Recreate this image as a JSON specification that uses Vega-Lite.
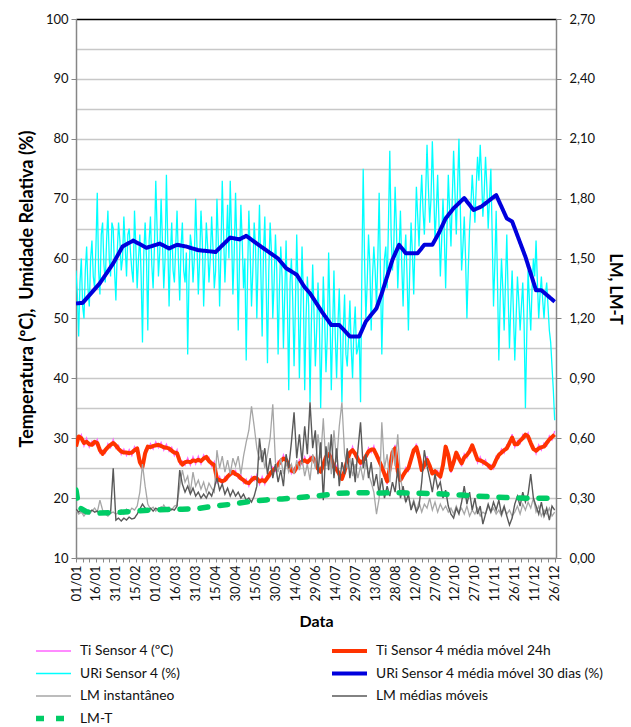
{
  "$schema": "https://vega.github.io/schema/vega-lite/v6.json",
  "width": 480,
  "height": 539,
  "autosize": "none",
  "padding": {"left": 76, "top": 19, "right": 75, "bottom": 169},
  "background": "white",
  "config": {
    "font": "Lato",
    "view": {"stroke": null},
    "axis": {"labelFont": "Lato", "titleFont": "Lato", "labelColor": "#111", "titleColor": "#000", "labelFontSize": 13, "titleFontSize": 15, "titleFontWeight": "bold", "domainColor": "#868686", "domainWidth": 1.5, "tickColor": "#868686"}
  },
  "datasets": {
    "raw": [
      {"d":"2016-01-01","ti":29.2,"tim":28.6,"lmi":0.24,"lmm":0.245},
      {"d":"2016-01-03","ti":29.8,"tim":30.3,"lmi":0.22,"lmm":0.23},
      {"d":"2016-01-05","ti":30.6,"tim":30.0,"lmi":0.23,"lmm":0.24},
      {"d":"2016-01-07","ti":28.7,"tim":29.2,"lmi":0.21,"lmm":0.225},
      {"d":"2016-01-09","ti":30.0,"tim":29.4,"lmi":0.23,"lmm":0.235},
      {"d":"2016-01-11","ti":28.5,"tim":29.0,"lmi":0.22,"lmm":0.23},
      {"d":"2016-01-13","ti":29.5,"tim":28.9,"lmi":0.235,"lmm":0.24},
      {"d":"2016-01-15","ti":28.9,"tim":29.4,"lmi":0.25,"lmm":0.23},
      {"d":"2016-01-17","ti":29.8,"tim":29.2,"lmi":0.23,"lmm":0.235},
      {"d":"2016-01-19","ti":27.5,"tim":28.0,"lmi":0.29,"lmm":0.225},
      {"d":"2016-01-21","ti":28.0,"tim":27.4,"lmi":0.24,"lmm":0.23},
      {"d":"2016-01-23","ti":27.5,"tim":28.0,"lmi":0.22,"lmm":0.22},
      {"d":"2016-01-25","ti":29.1,"tim":28.5,"lmi":0.21,"lmm":0.23},
      {"d":"2016-01-27","ti":28.4,"tim":28.9,"lmi":0.225,"lmm":0.225},
      {"d":"2016-01-29","ti":29.8,"tim":29.2,"lmi":0.23,"lmm":0.45},
      {"d":"2016-01-31","ti":28.3,"tim":28.8,"lmi":0.22,"lmm":0.19},
      {"d":"2016-02-02","ti":28.8,"tim":28.2,"lmi":0.225,"lmm":0.2},
      {"d":"2016-02-04","ti":27.3,"tim":27.8,"lmi":0.24,"lmm":0.185},
      {"d":"2016-02-06","ti":28.2,"tim":27.6,"lmi":0.22,"lmm":0.2},
      {"d":"2016-02-08","ti":27.1,"tim":27.6,"lmi":0.245,"lmm":0.19},
      {"d":"2016-02-10","ti":28.1,"tim":27.5,"lmi":0.23,"lmm":0.205},
      {"d":"2016-02-12","ti":27.1,"tim":27.6,"lmi":0.25,"lmm":0.195},
      {"d":"2016-02-14","ti":28.6,"tim":28.0,"lmi":0.24,"lmm":0.2},
      {"d":"2016-02-16","ti":27.8,"tim":28.3,"lmi":0.26,"lmm":0.22},
      {"d":"2016-02-18","ti":26.6,"tim":26.0,"lmi":0.33,"lmm":0.245},
      {"d":"2016-02-20","ti":24.7,"tim":25.2,"lmi":0.47,"lmm":0.27},
      {"d":"2016-02-22","ti":28.1,"tim":27.5,"lmi":0.36,"lmm":0.25},
      {"d":"2016-02-24","ti":28.1,"tim":28.6,"lmi":0.27,"lmm":0.24},
      {"d":"2016-02-26","ti":29.1,"tim":28.5,"lmi":0.245,"lmm":0.25},
      {"d":"2016-02-28","ti":28.2,"tim":28.7,"lmi":0.255,"lmm":0.235},
      {"d":"2016-03-01","ti":29.4,"tim":28.8,"lmi":0.235,"lmm":0.25},
      {"d":"2016-03-03","ti":28.4,"tim":28.9,"lmi":0.25,"lmm":0.24},
      {"d":"2016-03-05","ti":29.3,"tim":28.7,"lmi":0.24,"lmm":0.255},
      {"d":"2016-03-07","ti":28.0,"tim":28.5,"lmi":0.265,"lmm":0.24},
      {"d":"2016-03-09","ti":29.0,"tim":28.4,"lmi":0.245,"lmm":0.25},
      {"d":"2016-03-11","ti":27.8,"tim":28.3,"lmi":0.255,"lmm":0.235},
      {"d":"2016-03-13","ti":28.5,"tim":27.9,"lmi":0.24,"lmm":0.245},
      {"d":"2016-03-15","ti":27.1,"tim":27.6,"lmi":0.26,"lmm":0.24},
      {"d":"2016-03-17","ti":28.1,"tim":27.5,"lmi":0.265,"lmm":0.26},
      {"d":"2016-03-19","ti":25.7,"tim":26.2,"lmi":0.36,"lmm":0.44},
      {"d":"2016-03-21","ti":26.2,"tim":25.6,"lmi":0.44,"lmm":0.37},
      {"d":"2016-03-23","ti":25.5,"tim":26.0,"lmi":0.38,"lmm":0.33},
      {"d":"2016-03-25","ti":26.7,"tim":26.1,"lmi":0.41,"lmm":0.36},
      {"d":"2016-03-27","ti":25.5,"tim":26.0,"lmi":0.33,"lmm":0.32},
      {"d":"2016-03-29","ti":26.9,"tim":26.3,"lmi":0.43,"lmm":0.35},
      {"d":"2016-03-31","ti":25.7,"tim":26.2,"lmi":0.36,"lmm":0.31},
      {"d":"2016-04-02","ti":27.0,"tim":26.4,"lmi":0.39,"lmm":0.33},
      {"d":"2016-04-04","ti":25.7,"tim":26.2,"lmi":0.345,"lmm":0.3},
      {"d":"2016-04-06","ti":27.2,"tim":26.6,"lmi":0.38,"lmm":0.32},
      {"d":"2016-04-08","ti":26.4,"tim":26.9,"lmi":0.33,"lmm":0.3},
      {"d":"2016-04-10","ti":26.8,"tim":26.2,"lmi":0.375,"lmm":0.33},
      {"d":"2016-04-12","ti":25.3,"tim":25.8,"lmi":0.35,"lmm":0.31},
      {"d":"2016-04-14","ti":26.1,"tim":25.5,"lmi":0.33,"lmm":0.35},
      {"d":"2016-04-16","ti":22.7,"tim":23.2,"lmi":0.54,"lmm":0.4},
      {"d":"2016-04-18","ti":23.6,"tim":23.0,"lmi":0.45,"lmm":0.34},
      {"d":"2016-04-20","ti":22.3,"tim":22.8,"lmi":0.51,"lmm":0.37},
      {"d":"2016-04-22","ti":23.6,"tim":23.0,"lmi":0.43,"lmm":0.32},
      {"d":"2016-04-24","ti":23.1,"tim":23.6,"lmi":0.49,"lmm":0.35},
      {"d":"2016-04-26","ti":24.6,"tim":24.0,"lmi":0.42,"lmm":0.31},
      {"d":"2016-04-28","ti":23.9,"tim":24.4,"lmi":0.5,"lmm":0.34},
      {"d":"2016-04-30","ti":24.6,"tim":24.0,"lmi":0.46,"lmm":0.31},
      {"d":"2016-05-02","ti":23.3,"tim":23.8,"lmi":0.51,"lmm":0.33},
      {"d":"2016-05-04","ti":23.9,"tim":23.3,"lmi":0.42,"lmm":0.3},
      {"d":"2016-05-06","ti":22.5,"tim":23.0,"lmi":0.51,"lmm":0.32},
      {"d":"2016-05-08","ti":23.2,"tim":22.6,"lmi":0.58,"lmm":0.29},
      {"d":"2016-05-10","ti":22.0,"tim":22.5,"lmi":0.64,"lmm":0.3},
      {"d":"2016-05-12","ti":23.6,"tim":23.0,"lmi":0.76,"lmm":0.28},
      {"d":"2016-05-14","ti":22.9,"tim":23.4,"lmi":0.66,"lmm":0.31},
      {"d":"2016-05-16","ti":23.9,"tim":23.3,"lmi":0.55,"lmm":0.36},
      {"d":"2016-05-18","ti":22.3,"tim":22.8,"lmi":0.49,"lmm":0.6},
      {"d":"2016-05-20","ti":23.6,"tim":23.0,"lmi":0.54,"lmm":0.48},
      {"d":"2016-05-22","ti":22.3,"tim":22.8,"lmi":0.45,"lmm":0.55},
      {"d":"2016-05-24","ti":24.0,"tim":23.4,"lmi":0.52,"lmm":0.42},
      {"d":"2016-05-26","ti":23.6,"tim":24.1,"lmi":0.6,"lmm":0.5},
      {"d":"2016-05-28","ti":25.2,"tim":24.6,"lmi":0.77,"lmm":0.4},
      {"d":"2016-05-30","ti":24.5,"tim":25.0,"lmi":0.48,"lmm":0.47},
      {"d":"2016-06-01","ti":26.2,"tim":25.6,"lmi":0.43,"lmm":0.38},
      {"d":"2016-06-03","ti":25.7,"tim":26.2,"lmi":0.5,"lmm":0.44},
      {"d":"2016-06-05","ti":27.2,"tim":26.6,"lmi":0.42,"lmm":0.36},
      {"d":"2016-06-07","ti":25.9,"tim":26.4,"lmi":0.48,"lmm":0.52},
      {"d":"2016-06-09","ti":26.0,"tim":25.4,"lmi":0.43,"lmm":0.45},
      {"d":"2016-06-11","ti":24.1,"tim":24.6,"lmi":0.47,"lmm":0.58},
      {"d":"2016-06-13","ti":25.0,"tim":24.4,"lmi":0.42,"lmm":0.73},
      {"d":"2016-06-15","ti":24.7,"tim":25.2,"lmi":0.49,"lmm":0.5},
      {"d":"2016-06-17","ti":26.4,"tim":25.8,"lmi":0.44,"lmm":0.62},
      {"d":"2016-06-19","ti":25.6,"tim":26.1,"lmi":0.5,"lmm":0.48},
      {"d":"2016-06-21","ti":26.9,"tim":26.3,"lmi":0.41,"lmm":0.66},
      {"d":"2016-06-23","ti":25.5,"tim":26.0,"lmi":0.47,"lmm":0.52},
      {"d":"2016-06-25","ti":27.0,"tim":26.4,"lmi":0.39,"lmm":0.78},
      {"d":"2016-06-27","ti":26.3,"tim":26.8,"lmi":0.52,"lmm":0.55},
      {"d":"2016-06-29","ti":26.6,"tim":26.0,"lmi":0.45,"lmm":0.64},
      {"d":"2016-07-01","ti":24.4,"tim":24.9,"lmi":0.62,"lmm":0.42},
      {"d":"2016-07-03","ti":25.0,"tim":24.4,"lmi":0.5,"lmm":0.58},
      {"d":"2016-07-05","ti":25.1,"tim":25.6,"lmi":0.7,"lmm":0.29},
      {"d":"2016-07-07","ti":27.5,"tim":26.9,"lmi":0.46,"lmm":0.56},
      {"d":"2016-07-09","ti":26.9,"tim":27.4,"lmi":0.58,"lmm":0.44},
      {"d":"2016-07-11","ti":27.1,"tim":26.5,"lmi":0.42,"lmm":0.62},
      {"d":"2016-07-13","ti":24.7,"tim":25.2,"lmi":0.64,"lmm":0.4},
      {"d":"2016-07-15","ti":25.4,"tim":24.8,"lmi":0.48,"lmm":0.55},
      {"d":"2016-07-17","ti":23.5,"tim":24.0,"lmi":0.66,"lmm":0.36},
      {"d":"2016-07-19","ti":23.8,"tim":23.2,"lmi":0.78,"lmm":0.48},
      {"d":"2016-07-21","ti":24.0,"tim":24.5,"lmi":0.52,"lmm":0.42},
      {"d":"2016-07-23","ti":26.9,"tim":26.3,"lmi":0.45,"lmm":0.55},
      {"d":"2016-07-25","ti":27.1,"tim":27.6,"lmi":0.5,"lmm":0.4},
      {"d":"2016-07-27","ti":28.6,"tim":28.0,"lmi":0.41,"lmm":0.5},
      {"d":"2016-07-29","ti":26.9,"tim":27.4,"lmi":0.47,"lmm":0.38},
      {"d":"2016-07-31","ti":27.1,"tim":26.5,"lmi":0.4,"lmm":0.54},
      {"d":"2016-08-02","ti":25.4,"tim":25.9,"lmi":0.46,"lmm":0.68},
      {"d":"2016-08-04","ti":26.8,"tim":26.2,"lmi":0.39,"lmm":0.45},
      {"d":"2016-08-06","ti":26.5,"tim":27.0,"lmi":0.48,"lmm":0.52},
      {"d":"2016-08-08","ti":28.4,"tim":27.8,"lmi":0.42,"lmm":0.4},
      {"d":"2016-08-10","ti":27.6,"tim":28.1,"lmi":0.38,"lmm":0.48},
      {"d":"2016-08-12","ti":28.7,"tim":28.1,"lmi":0.33,"lmm":0.36},
      {"d":"2016-08-14","ti":26.7,"tim":27.2,"lmi":0.22,"lmm":0.42},
      {"d":"2016-08-16","ti":26.8,"tim":26.2,"lmi":0.3,"lmm":0.32},
      {"d":"2016-08-18","ti":24.7,"tim":25.2,"lmi":0.68,"lmm":0.4},
      {"d":"2016-08-20","ti":24.6,"tim":24.0,"lmi":0.45,"lmm":0.3},
      {"d":"2016-08-22","ti":22.3,"tim":22.8,"lmi":0.52,"lmm":0.36},
      {"d":"2016-08-24","ti":25.6,"tim":25.0,"lmi":0.38,"lmm":0.31},
      {"d":"2016-08-26","ti":27.1,"tim":27.6,"lmi":0.55,"lmm":0.38},
      {"d":"2016-08-28","ti":28.9,"tim":28.3,"lmi":0.46,"lmm":0.33},
      {"d":"2016-08-30","ti":24.0,"tim":24.5,"lmi":0.62,"lmm":0.45},
      {"d":"2016-09-01","ti":23.6,"tim":23.0,"lmi":0.4,"lmm":0.3},
      {"d":"2016-09-03","ti":23.3,"tim":23.8,"lmi":0.33,"lmm":0.36},
      {"d":"2016-09-05","ti":25.1,"tim":24.5,"lmi":0.28,"lmm":0.28},
      {"d":"2016-09-07","ti":24.5,"tim":25.0,"lmi":0.31,"lmm":0.32},
      {"d":"2016-09-09","ti":27.1,"tim":26.5,"lmi":0.25,"lmm":0.24},
      {"d":"2016-09-11","ti":27.5,"tim":28.0,"lmi":0.29,"lmm":0.28},
      {"d":"2016-09-13","ti":29.1,"tim":28.5,"lmi":0.24,"lmm":0.23},
      {"d":"2016-09-15","ti":26.3,"tim":26.8,"lmi":0.28,"lmm":0.26},
      {"d":"2016-09-17","ti":25.3,"tim":24.7,"lmi":0.23,"lmm":0.38},
      {"d":"2016-09-19","ti":25.0,"tim":25.5,"lmi":0.27,"lmm":0.54},
      {"d":"2016-09-21","ti":27.0,"tim":26.4,"lmi":0.25,"lmm":0.46},
      {"d":"2016-09-23","ti":24.9,"tim":25.4,"lmi":0.3,"lmm":0.4},
      {"d":"2016-09-25","ti":24.7,"tim":24.1,"lmi":0.24,"lmm":0.33},
      {"d":"2016-09-27","ti":24.0,"tim":24.5,"lmi":0.28,"lmm":0.42},
      {"d":"2016-09-29","ti":24.6,"tim":24.0,"lmi":0.23,"lmm":0.35},
      {"d":"2016-10-01","ti":23.1,"tim":23.6,"lmi":0.27,"lmm":0.38},
      {"d":"2016-10-03","ti":26.1,"tim":25.5,"lmi":0.24,"lmm":0.3},
      {"d":"2016-10-05","ti":28.1,"tim":28.6,"lmi":0.26,"lmm":0.34},
      {"d":"2016-10-07","ti":27.8,"tim":27.2,"lmi":0.23,"lmm":0.26},
      {"d":"2016-10-09","ti":24.2,"tim":24.7,"lmi":0.25,"lmm":0.22},
      {"d":"2016-10-11","ti":26.6,"tim":26.0,"lmi":0.22,"lmm":0.2},
      {"d":"2016-10-13","ti":27.1,"tim":27.6,"lmi":0.26,"lmm":0.25},
      {"d":"2016-10-15","ti":27.2,"tim":26.6,"lmi":0.23,"lmm":0.22},
      {"d":"2016-10-17","ti":25.3,"tim":25.8,"lmi":0.25,"lmm":0.28},
      {"d":"2016-10-19","ti":27.4,"tim":26.8,"lmi":0.22,"lmm":0.36},
      {"d":"2016-10-21","ti":26.7,"tim":27.2,"lmi":0.26,"lmm":0.27},
      {"d":"2016-10-23","ti":28.4,"tim":27.8,"lmi":0.21,"lmm":0.33},
      {"d":"2016-10-25","ti":28.3,"tim":28.8,"lmi":0.24,"lmm":0.24},
      {"d":"2016-10-27","ti":28.2,"tim":27.6,"lmi":0.22,"lmm":0.3},
      {"d":"2016-10-29","ti":25.9,"tim":26.4,"lmi":0.25,"lmm":0.22},
      {"d":"2016-10-31","ti":26.9,"tim":26.3,"lmi":0.21,"lmm":0.26},
      {"d":"2016-11-02","ti":25.6,"tim":26.1,"lmi":0.23,"lmm":0.17},
      {"d":"2016-11-04","ti":26.4,"tim":25.8,"lmi":0.22,"lmm":0.22},
      {"d":"2016-11-06","ti":25.0,"tim":25.5,"lmi":0.26,"lmm":0.27},
      {"d":"2016-11-08","ti":25.6,"tim":25.0,"lmi":0.23,"lmm":0.23},
      {"d":"2016-11-10","ti":24.9,"tim":25.4,"lmi":0.25,"lmm":0.28},
      {"d":"2016-11-12","ti":27.0,"tim":26.4,"lmi":0.22,"lmm":0.24},
      {"d":"2016-11-14","ti":26.7,"tim":27.2,"lmi":0.24,"lmm":0.29},
      {"d":"2016-11-16","ti":28.2,"tim":27.6,"lmi":0.21,"lmm":0.22},
      {"d":"2016-11-18","ti":27.5,"tim":28.0,"lmi":0.25,"lmm":0.26},
      {"d":"2016-11-20","ti":28.9,"tim":28.3,"lmi":0.22,"lmm":0.21},
      {"d":"2016-11-22","ti":28.7,"tim":29.2,"lmi":0.24,"lmm":0.165},
      {"d":"2016-11-24","ti":30.7,"tim":30.1,"lmi":0.21,"lmm":0.2},
      {"d":"2016-11-26","ti":28.5,"tim":29.0,"lmi":0.23,"lmm":0.27},
      {"d":"2016-11-28","ti":29.6,"tim":29.0,"lmi":0.26,"lmm":0.31},
      {"d":"2016-11-30","ti":29.1,"tim":29.6,"lmi":0.22,"lmm":0.26},
      {"d":"2016-12-02","ti":30.6,"tim":30.0,"lmi":0.27,"lmm":0.33},
      {"d":"2016-12-04","ti":30.1,"tim":30.6,"lmi":0.24,"lmm":0.28},
      {"d":"2016-12-06","ti":30.9,"tim":30.3,"lmi":0.28,"lmm":0.32},
      {"d":"2016-12-08","ti":28.7,"tim":29.2,"lmi":0.25,"lmm":0.42},
      {"d":"2016-12-10","ti":28.8,"tim":28.2,"lmi":0.3,"lmm":0.3},
      {"d":"2016-12-12","ti":27.4,"tim":27.9,"lmi":0.23,"lmm":0.26},
      {"d":"2016-12-14","ti":28.9,"tim":28.3,"lmi":0.26,"lmm":0.22},
      {"d":"2016-12-16","ti":28.0,"tim":28.5,"lmi":0.21,"lmm":0.28},
      {"d":"2016-12-18","ti":29.2,"tim":28.6,"lmi":0.24,"lmm":0.21},
      {"d":"2016-12-20","ti":28.7,"tim":29.2,"lmi":0.22,"lmm":0.25},
      {"d":"2016-12-22","ti":30.4,"tim":29.8,"lmi":0.25,"lmm":0.19},
      {"d":"2016-12-24","ti":29.7,"tim":30.2,"lmi":0.21,"lmm":0.26},
      {"d":"2016-12-26","ti":31.2,"tim":30.6,"lmi":0.23,"lmm":0.24}
    ],
    "umidade": [
      {"d":"2016-01-01","uri":58},{"d":"2016-01-02","uri":54},{"d":"2016-01-03","uri":47},{"d":"2016-01-04","uri":56},{"d":"2016-01-05","uri":60},{"d":"2016-01-06","uri":52},{"d":"2016-01-07","uri":50},{"d":"2016-01-08","uri":58},{"d":"2016-01-09","uri":62},{"d":"2016-01-10","uri":55},
      {"d":"2016-01-11","uri":52},{"d":"2016-01-12","uri":60},{"d":"2016-01-13","uri":63},{"d":"2016-01-14","uri":57},{"d":"2016-01-15","uri":55},{"d":"2016-01-16","uri":62},{"d":"2016-01-17","uri":71},{"d":"2016-01-18","uri":58},{"d":"2016-01-19","uri":54},{"d":"2016-01-20","uri":64},
      {"d":"2016-01-21","uri":66},{"d":"2016-01-22","uri":59},{"d":"2016-01-23","uri":56},{"d":"2016-01-24","uri":63},{"d":"2016-01-25","uri":68},{"d":"2016-01-26","uri":60},{"d":"2016-01-27","uri":57},{"d":"2016-01-28","uri":66},{"d":"2016-01-29","uri":65},{"d":"2016-01-30","uri":58},
      {"d":"2016-01-31","uri":53},{"d":"2016-02-01","uri":61},{"d":"2016-02-02","uri":66},{"d":"2016-02-03","uri":63},{"d":"2016-02-04","uri":58},{"d":"2016-02-05","uri":60},{"d":"2016-02-06","uri":67},{"d":"2016-02-07","uri":62},{"d":"2016-02-08","uri":57},{"d":"2016-02-09","uri":64},
      {"d":"2016-02-10","uri":65},{"d":"2016-02-11","uri":61},{"d":"2016-02-12","uri":58},{"d":"2016-02-13","uri":56},{"d":"2016-02-14","uri":68},{"d":"2016-02-15","uri":62},{"d":"2016-02-16","uri":55},{"d":"2016-02-17","uri":60},{"d":"2016-02-18","uri":64},{"d":"2016-02-19","uri":57},
      {"d":"2016-02-20","uri":46},{"d":"2016-02-21","uri":61},{"d":"2016-02-22","uri":66},{"d":"2016-02-23","uri":60},{"d":"2016-02-24","uri":48},{"d":"2016-02-25","uri":63},{"d":"2016-02-26","uri":67},{"d":"2016-02-27","uri":59},{"d":"2016-02-28","uri":55},{"d":"2016-02-29","uri":62},
      {"d":"2016-03-01","uri":73},{"d":"2016-03-02","uri":65},{"d":"2016-03-03","uri":57},{"d":"2016-03-04","uri":61},{"d":"2016-03-05","uri":70},{"d":"2016-03-06","uri":63},{"d":"2016-03-07","uri":55},{"d":"2016-03-08","uri":60},{"d":"2016-03-09","uri":74},{"d":"2016-03-10","uri":63},
      {"d":"2016-03-11","uri":52},{"d":"2016-03-12","uri":61},{"d":"2016-03-13","uri":66},{"d":"2016-03-14","uri":58},{"d":"2016-03-15","uri":56},{"d":"2016-03-16","uri":62},{"d":"2016-03-17","uri":68},{"d":"2016-03-18","uri":60},{"d":"2016-03-19","uri":53},{"d":"2016-03-20","uri":62},
      {"d":"2016-03-21","uri":66},{"d":"2016-03-22","uri":58},{"d":"2016-03-23","uri":56},{"d":"2016-03-24","uri":61},{"d":"2016-03-25","uri":44},{"d":"2016-03-26","uri":57},{"d":"2016-03-27","uri":64},{"d":"2016-03-28","uri":62},{"d":"2016-03-29","uri":56},{"d":"2016-03-30","uri":60},
      {"d":"2016-03-31","uri":70},{"d":"2016-04-01","uri":62},{"d":"2016-04-02","uri":54},{"d":"2016-04-03","uri":60},{"d":"2016-04-04","uri":68},{"d":"2016-04-05","uri":63},{"d":"2016-04-06","uri":52},{"d":"2016-04-07","uri":59},{"d":"2016-04-08","uri":66},{"d":"2016-04-09","uri":62},
      {"d":"2016-04-10","uri":56},{"d":"2016-04-11","uri":60},{"d":"2016-04-12","uri":67},{"d":"2016-04-13","uri":62},{"d":"2016-04-14","uri":55},{"d":"2016-04-15","uri":58},{"d":"2016-04-16","uri":70},{"d":"2016-04-17","uri":63},{"d":"2016-04-18","uri":52},{"d":"2016-04-19","uri":61},
      {"d":"2016-04-20","uri":73},{"d":"2016-04-21","uri":64},{"d":"2016-04-22","uri":56},{"d":"2016-04-23","uri":62},{"d":"2016-04-24","uri":69},{"d":"2016-04-25","uri":60},{"d":"2016-04-26","uri":73},{"d":"2016-04-27","uri":64},{"d":"2016-04-28","uri":54},{"d":"2016-04-29","uri":61},
      {"d":"2016-04-30","uri":71},{"d":"2016-05-01","uri":62},{"d":"2016-05-02","uri":48},{"d":"2016-05-03","uri":60},{"d":"2016-05-04","uri":69},{"d":"2016-05-05","uri":63},{"d":"2016-05-06","uri":55},{"d":"2016-05-07","uri":60},{"d":"2016-05-08","uri":43},{"d":"2016-05-09","uri":57},
      {"d":"2016-05-10","uri":68},{"d":"2016-05-11","uri":61},{"d":"2016-05-12","uri":52},{"d":"2016-05-13","uri":58},{"d":"2016-05-14","uri":66},{"d":"2016-05-15","uri":62},{"d":"2016-05-16","uri":50},{"d":"2016-05-17","uri":60},{"d":"2016-05-18","uri":69},{"d":"2016-05-19","uri":58},
      {"d":"2016-05-20","uri":47},{"d":"2016-05-21","uri":61},{"d":"2016-05-22","uri":67},{"d":"2016-05-23","uri":56},{"d":"2016-05-24","uri":42.5},{"d":"2016-05-25","uri":58},{"d":"2016-05-26","uri":66},{"d":"2016-05-27","uri":61},{"d":"2016-05-28","uri":50},{"d":"2016-05-29","uri":56},
      {"d":"2016-05-30","uri":64},{"d":"2016-05-31","uri":58},{"d":"2016-06-01","uri":44},{"d":"2016-06-02","uri":55},{"d":"2016-06-03","uri":62},{"d":"2016-06-04","uri":57},{"d":"2016-06-05","uri":45},{"d":"2016-06-06","uri":54},{"d":"2016-06-07","uri":63},{"d":"2016-06-08","uri":52},
      {"d":"2016-06-09","uri":38},{"d":"2016-06-10","uri":56},{"d":"2016-06-11","uri":60},{"d":"2016-06-12","uri":53},{"d":"2016-06-13","uri":42},{"d":"2016-06-14","uri":52},{"d":"2016-06-15","uri":64},{"d":"2016-06-16","uri":55},{"d":"2016-06-17","uri":40},{"d":"2016-06-18","uri":51},
      {"d":"2016-06-19","uri":62},{"d":"2016-06-20","uri":54},{"d":"2016-06-21","uri":38},{"d":"2016-06-22","uri":50},{"d":"2016-06-23","uri":57},{"d":"2016-06-24","uri":52},{"d":"2016-06-25","uri":36},{"d":"2016-06-26","uri":49},{"d":"2016-06-27","uri":59},{"d":"2016-06-28","uri":51},
      {"d":"2016-06-29","uri":42},{"d":"2016-06-30","uri":48},{"d":"2016-07-01","uri":56},{"d":"2016-07-02","uri":50},{"d":"2016-07-03","uri":35},{"d":"2016-07-04","uri":46},{"d":"2016-07-05","uri":57},{"d":"2016-07-06","uri":50},{"d":"2016-07-07","uri":41},{"d":"2016-07-08","uri":47},
      {"d":"2016-07-09","uri":61},{"d":"2016-07-10","uri":51},{"d":"2016-07-11","uri":38},{"d":"2016-07-12","uri":48},{"d":"2016-07-13","uri":58},{"d":"2016-07-14","uri":47},{"d":"2016-07-15","uri":40},{"d":"2016-07-16","uri":49},{"d":"2016-07-17","uri":55},{"d":"2016-07-18","uri":46},
      {"d":"2016-07-19","uri":36},{"d":"2016-07-20","uri":48},{"d":"2016-07-21","uri":54},{"d":"2016-07-22","uri":44},{"d":"2016-07-23","uri":42},{"d":"2016-07-24","uri":47},{"d":"2016-07-25","uri":53},{"d":"2016-07-26","uri":45},{"d":"2016-07-27","uri":40},{"d":"2016-07-28","uri":48},
      {"d":"2016-07-29","uri":52},{"d":"2016-07-30","uri":44},{"d":"2016-07-31","uri":45},{"d":"2016-08-01","uri":47},{"d":"2016-08-02","uri":36},{"d":"2016-08-03","uri":58},{"d":"2016-08-04","uri":75},{"d":"2016-08-05","uri":60},{"d":"2016-08-06","uri":50},{"d":"2016-08-07","uri":56},
      {"d":"2016-08-08","uri":64},{"d":"2016-08-09","uri":59},{"d":"2016-08-10","uri":48},{"d":"2016-08-11","uri":57},{"d":"2016-08-12","uri":62},{"d":"2016-08-13","uri":58},{"d":"2016-08-14","uri":52},{"d":"2016-08-15","uri":60},{"d":"2016-08-16","uri":71},{"d":"2016-08-17","uri":57},
      {"d":"2016-08-18","uri":44},{"d":"2016-08-19","uri":54},{"d":"2016-08-20","uri":60},{"d":"2016-08-21","uri":62},{"d":"2016-08-22","uri":55},{"d":"2016-08-23","uri":66},{"d":"2016-08-24","uri":78},{"d":"2016-08-25","uri":64},{"d":"2016-08-26","uri":58},{"d":"2016-08-27","uri":62},
      {"d":"2016-08-28","uri":72},{"d":"2016-08-29","uri":65},{"d":"2016-08-30","uri":55},{"d":"2016-08-31","uri":61},{"d":"2016-09-01","uri":68},{"d":"2016-09-02","uri":59},{"d":"2016-09-03","uri":52},{"d":"2016-09-04","uri":60},{"d":"2016-09-05","uri":64},{"d":"2016-09-06","uri":57},
      {"d":"2016-09-07","uri":48},{"d":"2016-09-08","uri":58},{"d":"2016-09-09","uri":66},{"d":"2016-09-10","uri":61},{"d":"2016-09-11","uri":54},{"d":"2016-09-12","uri":63},{"d":"2016-09-13","uri":72},{"d":"2016-09-14","uri":67},{"d":"2016-09-15","uri":62},{"d":"2016-09-16","uri":69},
      {"d":"2016-09-17","uri":74},{"d":"2016-09-18","uri":68},{"d":"2016-09-19","uri":64},{"d":"2016-09-20","uri":71},{"d":"2016-09-21","uri":79},{"d":"2016-09-22","uri":72},{"d":"2016-09-23","uri":66},{"d":"2016-09-24","uri":70},{"d":"2016-09-25","uri":79.6},{"d":"2016-09-26","uri":72},
      {"d":"2016-09-27","uri":63},{"d":"2016-09-28","uri":68},{"d":"2016-09-29","uri":74},{"d":"2016-09-30","uri":66},{"d":"2016-10-01","uri":57},{"d":"2016-10-02","uri":63},{"d":"2016-10-03","uri":70},{"d":"2016-10-04","uri":64},{"d":"2016-10-05","uri":55},{"d":"2016-10-06","uri":65},
      {"d":"2016-10-07","uri":74},{"d":"2016-10-08","uri":68},{"d":"2016-10-09","uri":62},{"d":"2016-10-10","uri":70},{"d":"2016-10-11","uri":78},{"d":"2016-10-12","uri":71},{"d":"2016-10-13","uri":64},{"d":"2016-10-14","uri":72},{"d":"2016-10-15","uri":80},{"d":"2016-10-16","uri":69},
      {"d":"2016-10-17","uri":58},{"d":"2016-10-18","uri":62},{"d":"2016-10-19","uri":67},{"d":"2016-10-20","uri":60},{"d":"2016-10-21","uri":50},{"d":"2016-10-22","uri":58},{"d":"2016-10-23","uri":65},{"d":"2016-10-24","uri":69},{"d":"2016-10-25","uri":74},{"d":"2016-10-26","uri":70},
      {"d":"2016-10-27","uri":66},{"d":"2016-10-28","uri":72},{"d":"2016-10-29","uri":77},{"d":"2016-10-30","uri":73},{"d":"2016-10-31","uri":79},{"d":"2016-11-01","uri":74},{"d":"2016-11-02","uri":67},{"d":"2016-11-03","uri":71},{"d":"2016-11-04","uri":77},{"d":"2016-11-05","uri":72},
      {"d":"2016-11-06","uri":65},{"d":"2016-11-07","uri":70},{"d":"2016-11-08","uri":75},{"d":"2016-11-09","uri":64},{"d":"2016-11-10","uri":52},{"d":"2016-11-11","uri":59},{"d":"2016-11-12","uri":68},{"d":"2016-11-13","uri":56},{"d":"2016-11-14","uri":43},{"d":"2016-11-15","uri":53},
      {"d":"2016-11-16","uri":60},{"d":"2016-11-17","uri":55},{"d":"2016-11-18","uri":48},{"d":"2016-11-19","uri":56},{"d":"2016-11-20","uri":64},{"d":"2016-11-21","uri":54},{"d":"2016-11-22","uri":45},{"d":"2016-11-23","uri":52},{"d":"2016-11-24","uri":58},{"d":"2016-11-25","uri":51},
      {"d":"2016-11-26","uri":43},{"d":"2016-11-27","uri":50},{"d":"2016-11-28","uri":57},{"d":"2016-11-29","uri":53},{"d":"2016-11-30","uri":48},{"d":"2016-12-01","uri":52},{"d":"2016-12-02","uri":56},{"d":"2016-12-03","uri":49},{"d":"2016-12-04","uri":35},{"d":"2016-12-05","uri":47},
      {"d":"2016-12-06","uri":58},{"d":"2016-12-07","uri":53},{"d":"2016-12-08","uri":48},{"d":"2016-12-09","uri":55},{"d":"2016-12-10","uri":60},{"d":"2016-12-11","uri":57},{"d":"2016-12-12","uri":63},{"d":"2016-12-13","uri":56},{"d":"2016-12-14","uri":50},{"d":"2016-12-15","uri":54},
      {"d":"2016-12-16","uri":57},{"d":"2016-12-17","uri":53},{"d":"2016-12-18","uri":50},{"d":"2016-12-19","uri":54},{"d":"2016-12-20","uri":56},{"d":"2016-12-21","uri":52},{"d":"2016-12-22","uri":48},{"d":"2016-12-23","uri":46},{"d":"2016-12-24","uri":42},{"d":"2016-12-25","uri":38},
      {"d":"2016-12-26","uri":33}
    ],
    "uriMedia": [
      {"d":"2016-01-01","urim":52.5},{"d":"2016-01-06","urim":52.6},{"d":"2016-01-19","urim":55.9},
      {"d":"2016-01-29","urim":59.2},{"d":"2016-02-05","urim":62.0},{"d":"2016-02-13","urim":63.0},
      {"d":"2016-02-23","urim":61.8},{"d":"2016-03-04","urim":62.5},{"d":"2016-03-11","urim":61.7},
      {"d":"2016-03-17","urim":62.3},{"d":"2016-03-24","urim":62.0},{"d":"2016-04-02","urim":61.4},
      {"d":"2016-04-15","urim":61.1},{"d":"2016-04-26","urim":63.5},{"d":"2016-05-03","urim":63.2},
      {"d":"2016-05-08","urim":63.8},{"d":"2016-05-16","urim":62.5},{"d":"2016-05-23","urim":61.4},
      {"d":"2016-06-01","urim":60.0},{"d":"2016-06-07","urim":58.4},{"d":"2016-06-15","urim":57.3},
      {"d":"2016-06-21","urim":55.2},{"d":"2016-06-25","urim":54.2},{"d":"2016-07-04","urim":51.1},
      {"d":"2016-07-11","urim":48.9},{"d":"2016-07-17","urim":48.9},{"d":"2016-07-25","urim":47.0},
      {"d":"2016-08-01","urim":47.0},{"d":"2016-08-06","urim":49.5},{"d":"2016-08-14","urim":51.7},
      {"d":"2016-08-18","urim":54.2},{"d":"2016-08-26","urim":59.8},{"d":"2016-08-31","urim":62.3},
      {"d":"2016-09-05","urim":60.9},{"d":"2016-09-14","urim":60.9},{"d":"2016-09-19","urim":62.3},
      {"d":"2016-09-25","urim":62.3},{"d":"2016-09-30","urim":64.3},{"d":"2016-10-05","urim":66.7},
      {"d":"2016-10-11","urim":68.4},{"d":"2016-10-19","urim":70.1},{"d":"2016-10-26","urim":68.1},
      {"d":"2016-11-01","urim":68.7},{"d":"2016-11-12","urim":70.6},{"d":"2016-11-20","urim":66.7},
      {"d":"2016-11-24","urim":66.2},{"d":"2016-12-04","urim":60.3},{"d":"2016-12-12","urim":54.7},
      {"d":"2016-12-16","urim":54.7},{"d":"2016-12-26","urim":52.8}
    ],
    "lmT": [
      {"d":"2016-01-01","lmt":0.34},{"d":"2016-01-03","lmt":0.255},{"d":"2016-01-09","lmt":0.231},
      {"d":"2016-01-19","lmt":0.225},{"d":"2016-01-31","lmt":0.228},{"d":"2016-02-13","lmt":0.234},
      {"d":"2016-02-25","lmt":0.24},{"d":"2016-03-09","lmt":0.243},{"d":"2016-03-21","lmt":0.244},
      {"d":"2016-04-03","lmt":0.249},{"d":"2016-04-15","lmt":0.261},{"d":"2016-04-28","lmt":0.27},
      {"d":"2016-05-10","lmt":0.282},{"d":"2016-05-23","lmt":0.291},{"d":"2016-06-04","lmt":0.296},
      {"d":"2016-06-17","lmt":0.303},{"d":"2016-06-29","lmt":0.31},{"d":"2016-07-17","lmt":0.324},
      {"d":"2016-08-01","lmt":0.327},{"d":"2016-08-18","lmt":0.326},{"d":"2016-09-02","lmt":0.327},
      {"d":"2016-09-17","lmt":0.324},{"d":"2016-10-02","lmt":0.321},{"d":"2016-10-17","lmt":0.315},
      {"d":"2016-11-04","lmt":0.308},{"d":"2016-11-19","lmt":0.303},{"d":"2016-12-06","lmt":0.299},
      {"d":"2016-12-26","lmt":0.299}
    ]
  },
  "encoding": {
    "x": {
      "field": "d", "type": "temporal", "title": "Data",
      "scale": {"type": "utc", "nice": false, "domain": [{"year":2016,"month":1,"date":1,"utc":true},{"year":2016,"month":12,"date":27,"utc":true}]},
      "axis": {
        "values": [
          {"year":2016,"month":1,"date":1,"utc":true},{"year":2016,"month":1,"date":6,"utc":true},{"year":2016,"month":1,"date":11,"utc":true},
          {"year":2016,"month":1,"date":16,"utc":true},{"year":2016,"month":1,"date":21,"utc":true},{"year":2016,"month":1,"date":26,"utc":true},
          {"year":2016,"month":1,"date":31,"utc":true},{"year":2016,"month":1,"date":36,"utc":true},{"year":2016,"month":1,"date":41,"utc":true},
          {"year":2016,"month":1,"date":46,"utc":true},{"year":2016,"month":1,"date":51,"utc":true},{"year":2016,"month":1,"date":56,"utc":true},
          {"year":2016,"month":1,"date":61,"utc":true},{"year":2016,"month":1,"date":66,"utc":true},{"year":2016,"month":1,"date":71,"utc":true},
          {"year":2016,"month":1,"date":76,"utc":true},{"year":2016,"month":1,"date":81,"utc":true},{"year":2016,"month":1,"date":86,"utc":true},
          {"year":2016,"month":1,"date":91,"utc":true},{"year":2016,"month":1,"date":96,"utc":true},{"year":2016,"month":1,"date":101,"utc":true},
          {"year":2016,"month":1,"date":106,"utc":true},{"year":2016,"month":1,"date":111,"utc":true},{"year":2016,"month":1,"date":116,"utc":true},
          {"year":2016,"month":1,"date":121,"utc":true},{"year":2016,"month":1,"date":126,"utc":true},{"year":2016,"month":1,"date":131,"utc":true},
          {"year":2016,"month":1,"date":136,"utc":true},{"year":2016,"month":1,"date":141,"utc":true},{"year":2016,"month":1,"date":146,"utc":true},
          {"year":2016,"month":1,"date":151,"utc":true},{"year":2016,"month":1,"date":156,"utc":true},{"year":2016,"month":1,"date":161,"utc":true},
          {"year":2016,"month":1,"date":166,"utc":true},{"year":2016,"month":1,"date":171,"utc":true},{"year":2016,"month":1,"date":176,"utc":true},
          {"year":2016,"month":1,"date":181,"utc":true},{"year":2016,"month":1,"date":186,"utc":true},{"year":2016,"month":1,"date":191,"utc":true},
          {"year":2016,"month":1,"date":196,"utc":true},{"year":2016,"month":1,"date":201,"utc":true},{"year":2016,"month":1,"date":206,"utc":true},
          {"year":2016,"month":1,"date":211,"utc":true},{"year":2016,"month":1,"date":216,"utc":true},{"year":2016,"month":1,"date":221,"utc":true},
          {"year":2016,"month":1,"date":226,"utc":true},{"year":2016,"month":1,"date":231,"utc":true},{"year":2016,"month":1,"date":236,"utc":true},
          {"year":2016,"month":1,"date":241,"utc":true},{"year":2016,"month":1,"date":246,"utc":true},{"year":2016,"month":1,"date":251,"utc":true},
          {"year":2016,"month":1,"date":256,"utc":true},{"year":2016,"month":1,"date":261,"utc":true},{"year":2016,"month":1,"date":266,"utc":true},
          {"year":2016,"month":1,"date":271,"utc":true},{"year":2016,"month":1,"date":276,"utc":true},{"year":2016,"month":1,"date":281,"utc":true},
          {"year":2016,"month":1,"date":286,"utc":true},{"year":2016,"month":1,"date":291,"utc":true},{"year":2016,"month":1,"date":296,"utc":true},
          {"year":2016,"month":1,"date":301,"utc":true},{"year":2016,"month":1,"date":306,"utc":true},{"year":2016,"month":1,"date":311,"utc":true},
          {"year":2016,"month":1,"date":316,"utc":true},{"year":2016,"month":1,"date":321,"utc":true},{"year":2016,"month":1,"date":326,"utc":true},
          {"year":2016,"month":1,"date":331,"utc":true},{"year":2016,"month":1,"date":336,"utc":true},{"year":2016,"month":1,"date":341,"utc":true},
          {"year":2016,"month":1,"date":346,"utc":true},{"year":2016,"month":1,"date":351,"utc":true},{"year":2016,"month":1,"date":356,"utc":true},
          {"year":2016,"month":1,"date":361,"utc":true}
        ],
        "labelExpr": "round((datum.value - 1451606400000) / 86400000) % 15 === 0 ? utcFormat(datum.value, '%d/%m') : ''",
        "labelAngle": -90, "labelOverlap": false, "labelFlush": false, "labelBound": false,
        "labelPadding": 3, "tickSize": 4, "grid": false, "titlePadding": 12, "titleFontSize": 16
      }
    },
    "color": {
      "field": "serie", "type": "nominal",
      "scale": {"domain": ["ti","uri","lmi","lmt","tim","urim","lmm"], "range": ["#ff66ff","#00ffff","#a6a6a6","#00cc66","#ff3300","#0000dd","#595959"]},
      "legend": {"title": null, "labelExpr": "datum.label === 'ti' ? 'Ti Sensor 4 (ºC)' : datum.label === 'tim' ? 'Ti Sensor 4 média móvel 24h' : datum.label === 'uri' ? 'URi Sensor 4 (%)' : datum.label === 'urim' ? 'URi Sensor 4 média móvel 30 dias (%)' : datum.label === 'lmi' ? 'LM instantâneo' : datum.label === 'lmm' ? 'LM médias móveis' : 'LM-T'",
        "orient": "none", "legendX": -43, "legendY": 625, "columns": 2, "symbolType": "stroke", "symbolSize": 1225,
        "clipHeight": 14, "rowPadding": 8.5, "columnPadding": 148, "labelFontSize": 13.8, "labelFont": "Lato", "labelColor": "#111", "labelOffset": 6, "labelLimit": 400}
    },
    "strokeWidth": {
      "field": "serie", "type": "nominal",
      "scale": {"type": "ordinal", "domain": ["ti","uri","lmi","lmt","tim","urim","lmm"], "range": [1.3, 1.3, 1.3, 5.5, 4, 4, 1.4]},
      "legend": {"title": null}
    },
    "strokeDash": {
      "field": "serie", "type": "nominal",
      "scale": {"domain": ["ti","uri","lmi","lmt","tim","urim","lmm"], "range": [[1,0],[1,0],[1,0],[8,12],[1,0],[1,0],[1,0]]},
      "legend": {"title": null}
    }
  },
  "layer": [
    {
      "encoding": {
        "y": {"field": "valor", "type": "quantitative", "title": "Temperatura (ºC),\u00a0 Umidade Relativa (%)",
          "scale": {"domain": [10, 100], "nice": false, "zero": false},
          "axis": {"orient": "left", "values": [10,15,20,25,30,35,40,45,50,55,60,65,70,75,80,85,90,95,100],
            "labelExpr": "datum.value % 10 === 0 ? datum.label : ''",
            "grid": true, "gridWidth": 1.3,
            "gridColor": {"condition": {"test": "datum.value === 100", "value": "#000000"}, "value": "#c8c8c8"},
            "tickColor": {"condition": {"test": "datum.value % 10 === 0", "value": "#868686"}, "value": "transparent"},
            "tickSize": 5, "labelPadding": 3, "titlePadding": 9, "titleFontSize": 18}
        }
      },
      "layer": [
        {"data": {"name": "raw"}, "transform": [{"fold": ["ti"], "as": ["serie", "valor"]}], "mark": {"type": "line", "clip": true}},
        {"data": {"name": "raw"}, "transform": [{"fold": ["tim"], "as": ["serie", "valor"]}], "mark": {"type": "line", "clip": true, "strokeJoin": "round"}},
        {"data": {"name": "umidade"}, "transform": [{"fold": ["uri"], "as": ["serie", "valor"]}], "mark": {"type": "line", "clip": true}},
        {"data": {"name": "uriMedia"}, "transform": [{"fold": ["urim"], "as": ["serie", "valor"]}], "mark": {"type": "line", "clip": true, "strokeJoin": "round"}}
      ]
    },
    {
      "encoding": {
        "y": {"field": "valor", "type": "quantitative", "title": "LM, LM-T",
          "scale": {"domain": [0, 2.7], "nice": false, "zero": false},
          "axis": {"orient": "right", "values": [0,0.3,0.6,0.9,1.2,1.5,1.8,2.1,2.4,2.7],
            "labelExpr": "replace(format(datum.value, '.2f'), '.', ',')",
            "grid": false, "tickSize": 5, "labelPadding": 8, "titlePadding": 12, "titleFontSize": 16.5}
        }
      },
      "layer": [
        {"data": {"name": "raw"}, "transform": [{"fold": ["lmi"], "as": ["serie", "valor"]}], "mark": {"type": "line", "clip": true}},
        {"data": {"name": "raw"}, "transform": [{"fold": ["lmm"], "as": ["serie", "valor"]}], "mark": {"type": "line", "clip": true}},
        {"data": {"name": "lmT"}, "transform": [{"fold": ["lmt"], "as": ["serie", "valor"]}], "mark": {"type": "line", "clip": true, "strokeCap": "round"}}
      ]
    }
  ],
  "resolve": {"scale": {"y": "independent"}}
}
